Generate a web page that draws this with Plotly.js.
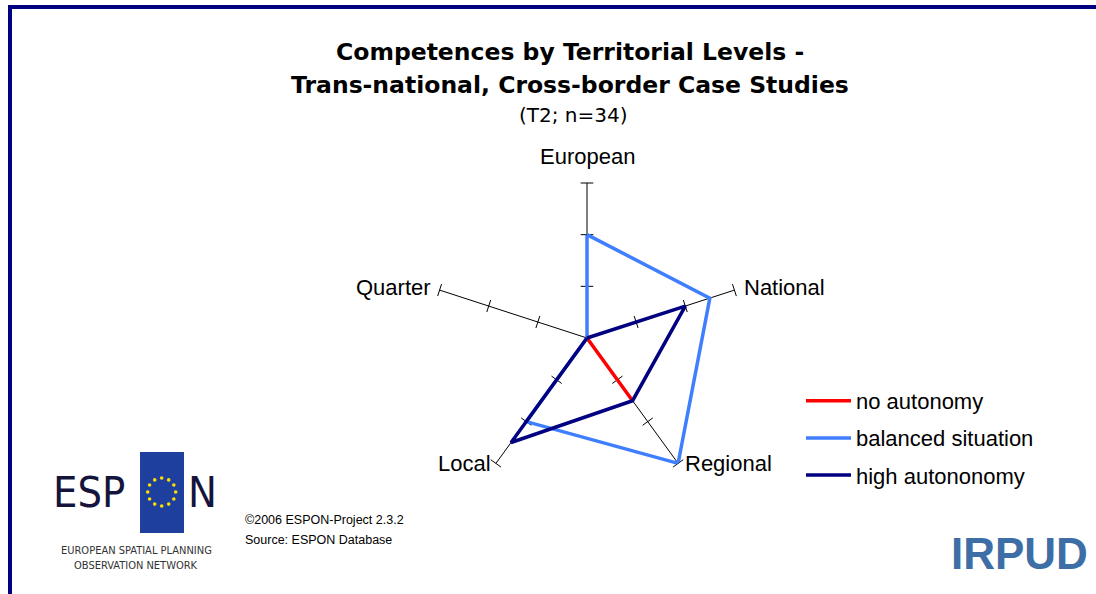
<!DOCTYPE html>
<html>
<head>
<meta charset="utf-8">
<script src="https://cdn.plot.ly/plotly-3.0.1.min.js"></script>
<style>
  html, body { margin: 0; padding: 0; background: #fff; }
  #chart { width: 1096px; height: 594px; }
</style>
</head>
<body>
<div id="chart"></div>
<script>
// Territorial levels (spokes) and scores per autonomy type
const levels = ['European', 'National', 'Regional', 'Local', 'Quarter'];
const noAutonomy = [0, 0, 1.5, 0, 0];
const balanced = [2, 2.5, 3, 2, 0];
const highAutonomy = [0, 2, 1.5, 2.5, 0];
const tickSteps = [1, 2, 3];

const seriesNames = ['no autonomy', 'balanced situation', 'high autononomy'];
const seriesColors = ['#ff0000', '#3f7fff', '#000080'];

const W = 1096, H = 594;
const px = x => x / W;
const py = y => 1 - y / H;

// spoke geometry (pixels)
const cx = 587, cy = 338, R = 155;

function closed(arr) { return arr.concat([arr[0]]); }

// tick marks crossing each spoke
const tickTheta = [], tickR = [], tickAngle = [];
levels.forEach((lv, i) => {
    tickSteps.forEach(s => {
        tickTheta.push(lv);
        tickR.push(s);
        tickAngle.push(72 * i - 90);
    });
});

const traces = [{
    type: 'scatterpolar',
    mode: 'markers',
    r: tickR,
    theta: tickTheta,
    marker: { symbol: 'line-ns', size: 9, angle: tickAngle, line: { color: '#000', width: 1 } },
    showlegend: false,
    hoverinfo: 'skip'
}];

[noAutonomy, balanced, highAutonomy].forEach((vals, k) => {
    traces.push({
        type: 'scatterpolar',
        mode: 'lines',
        r: closed(vals),
        theta: closed(levels),
        name: seriesNames[k],
        legendgroup: 'g' + k,
        line: { color: seriesColors[k], width: 3.5 },
        hoverinfo: 'skip'
    });
});

// ESPON stars
const shapes = [];
const starCx = 161.7, starCy = 492, starR = 14;
for (let i = 0; i < 12; i++) {
    const a = i * Math.PI / 6;
    const sx = starCx + starR * Math.cos(a), sy = starCy + starR * Math.sin(a);
    shapes.push({
        type: 'circle', xref: 'paper', yref: 'paper',
        x0: px(sx - 1.8), x1: px(sx + 1.8), y0: py(sy + 1.8), y1: py(sy - 1.8),
        fillcolor: '#ffdd00', line: { width: 0 }, layer: 'above'
    });
}
// ESPON flag rectangle
shapes.unshift({
    type: 'rect', xref: 'paper', yref: 'paper',
    x0: px(140), x1: px(184), y0: py(533), y1: py(452),
    fillcolor: '#1f3f9f', line: { width: 0 }
});
// frame
shapes.push({ type: 'line', xref: 'paper', yref: 'paper', x0: px(8), x1: 1, y0: py(7), y1: py(7),
    line: { color: '#000080', width: 4 } });
shapes.push({ type: 'line', xref: 'paper', yref: 'paper', x0: px(10), x1: px(10), y0: py(5), y1: 0,
    line: { color: '#000080', width: 4 } });

const titleFont = { family: 'DejaVu Sans, Verdana, sans-serif', size: 23.5, color: '#000' };
const logoFont = { family: 'Liberation Sans Narrow, DejaVu Sans Condensed, sans-serif', size: 43, color: '#14143c' };
const labelFont = { family: 'Liberation Sans, Arial, sans-serif', size: 22, color: '#000' };

const annotations = [
    { text: '<b>Competences by Territorial Levels -</b>', x: px(570), y: py(52), font: titleFont },
    { text: '<b>Trans-national, Cross-border Case Studies</b>', x: px(570), y: py(85), font: titleFont },
    { text: '(T2; n=34)', x: px(573), y: py(115), font: { family: 'DejaVu Sans, Verdana, sans-serif', size: 20, color: '#000' } },
    { text: '©2006 ESPON-Project 2.3.2', x: px(243), y: py(520), xanchor: 'left',
      font: { family: 'Liberation Sans, Arial, sans-serif', size: 12.5, color: '#000' } },
    { text: 'Source: ESPON Database', x: px(243), y: py(540), xanchor: 'left',
      font: { family: 'Liberation Sans, Arial, sans-serif', size: 12.5, color: '#000' } },
    { text: 'ESP', x: px(89), y: py(492), font: logoFont },
    { text: 'N', x: px(202), y: py(492), font: logoFont },
    { text: 'EUROPEAN SPATIAL PLANNING', x: px(136), y: py(550),
      font: { family: 'DejaVu Sans Condensed, Liberation Sans Narrow, sans-serif', size: 11, color: '#333' } },
    { text: 'OBSERVATION NETWORK', x: px(136), y: py(565),
      font: { family: 'DejaVu Sans Condensed, Liberation Sans Narrow, sans-serif', size: 11, color: '#333' } },
    { text: '<b>IRPUD</b>', x: px(1019), y: py(553),
      font: { family: 'Liberation Sans, Arial, sans-serif', size: 44, color: '#3d6fa6' } }
];

// spoke labels placed just outside each spoke end
const labelPlace = [
    { dx: 0, dy: -26, xa: 'center' },
    { dx: 8, dy: -3, xa: 'left' },
    { dx: 5, dy: 0, xa: 'left' },
    { dx: -3, dy: 0, xa: 'right' },
    { dx: -7, dy: -3, xa: 'right' }
];
levels.forEach((lv, i) => {
    const phi = (90 - 72 * i) * Math.PI / 180;
    const ex = cx + R * Math.cos(phi), ey = cy - R * Math.sin(phi);
    const p = labelPlace[i];
    annotations.push({ text: lv, x: px(ex + p.dx), y: py(ey + p.dy), xanchor: p.xa, font: labelFont });
});

annotations.forEach(a => Object.assign(a, Object.assign({ xref: 'paper', yref: 'paper', showarrow: false, yanchor: 'middle' },
    a.xanchor ? {} : { xanchor: 'center' }), a));

const layout = {
    width: W,
    height: H,
    margin: { l: 0, r: 0, t: 0, b: 0 },
    paper_bgcolor: '#fff',
    font: { family: 'Liberation Sans, Arial, sans-serif', size: 21, color: '#000' },
    polar: {
        domain: { x: [px(cx - R), px(cx + R)], y: [py(cy + R), py(cy - R)] },
        bgcolor: 'rgba(0,0,0,0)',
        angularaxis: {
            rotation: 90,
            direction: 'clockwise',
            showline: false,
            showgrid: true,
            gridcolor: '#000',
            gridwidth: 1,
            ticks: '',
            showticklabels: false
        },
        radialaxis: {
            range: [0, 3],
            showline: false,
            showgrid: false,
            showticklabels: false,
            ticks: ''
        }
    },
    showlegend: true,
    legend: {
        x: px(801),
        y: py(380),
        xanchor: 'left',
        yanchor: 'top',
        bgcolor: 'rgba(0,0,0,0)',
        traceorder: 'grouped',
        tracegroupgap: 5.5,
        itemwidth: 45,
        font: { size: 22, color: '#000' }
    },
    shapes: shapes,
    annotations: annotations
};

Plotly.newPlot('chart', traces, layout, { displayModeBar: false, staticPlot: true });
</script>
</body>
</html>
